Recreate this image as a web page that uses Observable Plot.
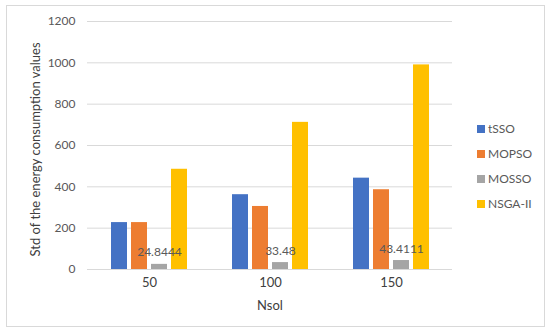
<!DOCTYPE html>
<html><head><meta charset="utf-8">
<script src="https://cdn.jsdelivr.net/npm/d3@7"></script>
<script src="https://cdn.jsdelivr.net/npm/@observablehq/plot@0.6"></script>
<style>
body{margin:0;background:#fff;font-family:Lato,sans-serif}
#wrap{position:relative;width:550px;height:332px;overflow:hidden;background:#fff}
#border{position:absolute;left:6px;top:5px;width:539px;height:322px;border:1px solid #d9d9d9;box-sizing:border-box}
.layer{position:absolute;left:0;top:0}
#legend{position:absolute;left:477px;top:116px;font-size:12px;color:#595959}
.item{display:flex;align-items:center;height:25px}
.sw{width:8px;height:8px;margin-right:3px}
</style></head><body>
<div id="wrap"><div id="border"></div><div id="bg" class="layer"></div><div id="fg" class="layer"></div><div id="legend"></div></div>
<script>
const nsol = ["50", "100", "150"];
const series = ["tSSO", "MOPSO", "MOSSO", "NSGA-II"];
const tSSO = [227, 362, 442];
const MOPSO = [227, 305, 386];
const MOSSO = [24.8444, 33.48, 43.4111];
const NSGA = [485, 712, 990];
const colors = ["#4472C4", "#ED7D31", "#A5A5A5", "#FFC000"];
const yTicks = [0, 200, 400, 600, 800, 1000, 1200];
const yTitle = "Std of the energy consumption values";
const xTitle = "Nsol";
const labeledSeries = "MOSSO";

const valuesBySeries = {"tSSO": tSSO, "MOPSO": MOPSO, "MOSSO": MOSSO, "NSGA-II": NSGA};
const data = nsol.flatMap((n, i) => series.map(s => ({nsol: n, series: s, value: valuesBySeries[s][i]})));

const common = {
  width: 550, height: 332,
  marginLeft: 87, marginRight: 98, marginTop: 21, marginBottom: 63,
  style: {fontFamily: "Lato, sans-serif", background: "transparent"}
};

// background layer: grid, y tick labels, axis titles
const bg = Plot.plot({
  ...common,
  y: {domain: [0, 1200], axis: null},
  marks: [
    Plot.ruleY(yTicks, {stroke: "#d9d9d9", strokeWidth: 1}),
    Plot.text(yTicks, {y: d => d, text: d => String(d), frameAnchor: "left", textAnchor: "end", dx: -12, fill: "#595959", fontSize: 12}),
    Plot.text([yTitle], {frameAnchor: "left", textAnchor: "middle", rotate: -90, dx: -52, dy: 4, text: d => d, fill: "#404040", fontSize: 13}),
    Plot.text([xTitle], {frameAnchor: "bottom", textAnchor: "middle", dy: 40, text: d => d, fill: "#404040", fontSize: 13})
  ]
});
document.getElementById("bg").appendChild(bg);

// foreground layer: grouped bars
const fg = Plot.plot({
  ...common,
  fx: {domain: nsol, paddingInner: 0.34, paddingOuter: 0.17},
  x: {domain: series, paddingInner: 0.19, paddingOuter: 0, axis: null},
  y: {domain: [0, 1200], axis: null},
  color: {domain: series, range: colors},
  marks: [
    Plot.barY(data, {fx: "nsol", x: "series", y: "value", fill: "series"}),
    Plot.text(data.filter(d => d.series === labeledSeries), {fx: "nsol", x: "series", y: "value", text: d => String(d.value), lineAnchor: "bottom", dy: -8, fill: "#595959", fontSize: 12}),
    Plot.axisFx({anchor: "bottom", tickSize: 0, tickPadding: 8, fontSize: 13, label: null, color: "#404040"})
  ]
});
document.getElementById("fg").appendChild(fg);

const legend = document.getElementById("legend");
series.forEach((s, i) => {
  const item = document.createElement("div");
  item.className = "item";
  const sw = document.createElement("span");
  sw.className = "sw";
  sw.style.background = colors[i];
  const t = document.createElement("span");
  t.textContent = s;
  item.appendChild(sw); item.appendChild(t);
  legend.appendChild(item);
});
</script>
</body></html>
